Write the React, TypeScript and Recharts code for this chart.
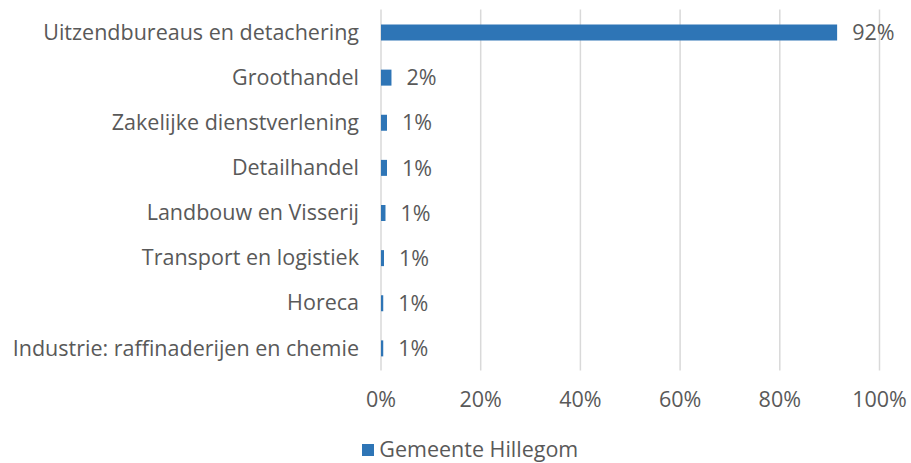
import React from "react";
import { BarChart, Bar, XAxis, YAxis, CartesianGrid, LabelList, Legend } from "recharts";

const categories = [
  "Uitzendbureaus en detachering",
  "Groothandel",
  "Zakelijke dienstverlening",
  "Detailhandel",
  "Landbouw en Visserij",
  "Transport en logistiek",
  "Horeca",
  "Industrie: raffinaderijen en chemie",
];
const values = [91.5, 2.1, 1.2, 1.2, 0.9, 0.6, 0.45, 0.45];
const valueLabels = ["92%", "2%", "1%", "1%", "1%", "1%", "1%", "1%"];
const xTicks = [0, 20, 40, 60, 80, 100];
const seriesName = "Gemeente Hillegom";

const data = categories.map((name, i) => ({ name, value: values[i], label: valueLabels[i] }));

const FONT = "'Open Sans', sans-serif";
const FS = 21.5;
const TEXT = "#595959";
const BLUE = "#2E75B6";

const LegendContent = () => (
  <div style={{ display: "flex", alignItems: "flex-start", paddingLeft: 361.7, fontFamily: FONT, fontSize: FS, lineHeight: `${FS}px`, color: TEXT }}>
    <span style={{ display: "inline-block", width: 12.6, height: 12.6, background: BLUE, marginTop: 5.5, marginRight: 5 }} />
    <span>{seriesName}</span>
  </div>
);

export default function App() {
  return (
    <div style={{ position: "absolute", left: 0, top: 0, background: "#fff" }}>
      <BarChart
        width={911}
        height={463}
        data={data}
        layout="vertical"
        margin={{ top: 9.5, right: 31.5, bottom: 52.5, left: 0 }}
      >
        <CartesianGrid horizontal={false} stroke="#d9d9d9" strokeWidth={1.5} />
        <XAxis
          type="number"
          domain={[0, 100]}
          ticks={xTicks}
          tickFormatter={(v) => `${v}%`}
          axisLine={false}
          tickLine={false}
          tickSize={0}
          tickMargin={21.5}
          height={40}
          tick={{ fill: TEXT, fontSize: FS, fontFamily: FONT }}
          interval={0}
        />
        <YAxis
          type="category"
          dataKey="name"
          width={381}
          axisLine={false}
          tickLine={false}
          tickSize={0}
          tickMargin={22}
          interval={0}
          tick={{ fill: TEXT, fontSize: FS, fontFamily: FONT }}
        />
        <Legend
          layout="horizontal"
          verticalAlign="middle"
          align="center"
          content={<LegendContent />}
          wrapperStyle={{ top: 438, left: 0, width: 911 }}
        />
        <Bar dataKey="value" name={seriesName} fill={BLUE} barSize={16} isAnimationActive={false}>
          <LabelList dataKey="label" position="right" offset={15} fill={TEXT} fontSize={FS} fontFamily={FONT} />
        </Bar>
      </BarChart>
    </div>
  );
}
